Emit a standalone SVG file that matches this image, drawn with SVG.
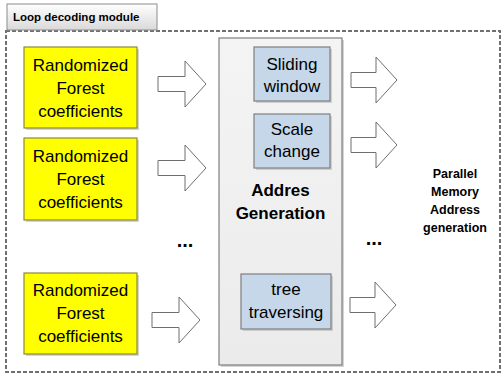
<svg xmlns="http://www.w3.org/2000/svg" width="504" height="376" viewBox="0 0 504 376">
  <defs>
    <linearGradient id="tabFill" x1="0" y1="0" x2="0" y2="1">
      <stop offset="0" stop-color="#ffffff"/>
      <stop offset="1" stop-color="#d9d9d9"/>
    </linearGradient>
    <linearGradient id="coreFill" x1="0" y1="0" x2="0" y2="1">
      <stop offset="0" stop-color="#f4f4f4"/>
      <stop offset="1" stop-color="#ebebeb"/>
    </linearGradient>
    <path id="inArrow" d="M0,-7.5 H27 V-23 L48,0 L27,23 V7.5 H0 Z"/>
    <path id="outArrow" d="M0,-7.5 H25 V-23 L46,0 L25,23 V7.5 H0 Z"/>
  </defs>
  <style>
    text { font-family: "Liberation Sans", Arial, sans-serif; fill: #000; text-anchor: middle; }
    .yellow { fill: #ffff00; stroke: #8a8a3a; stroke-width: 1.2; }
    .blue { fill: #c5d7e9; stroke: #7f7f7f; stroke-width: 1.2; }
    .shadow { fill: #b8b8b8; opacity: 0.6; }
    .arrow { fill: #ffffff; stroke: #6f6f6f; stroke-width: 1; }
    .big { font-size: 17px; }
    .bold { font-weight: bold; }
    .side { font-size: 12.5px; font-weight: bold; }
    .dots { font-size: 20px; font-weight: bold; }
  </style>

  <rect x="0" y="0" width="504" height="376" fill="#ffffff"/>

  <!-- module frame with its title tab -->
  <g id="module">
    <rect x="6" y="31" width="494" height="341" fill="none" stroke="#707070" stroke-width="2" stroke-dasharray="4,2"/>
    <rect x="7" y="4" width="150" height="26" fill="url(#tabFill)" stroke="#8c8c8c" stroke-width="1"/>
    <text x="13" y="21" class="bold" style="font-size:11.5px; text-anchor:start">Loop decoding module</text>
  </g>

  <!-- coefficient sources -->
  <g id="coeff1">
    <rect x="26" y="49" width="113" height="81" class="shadow"/>
    <rect x="24" y="47" width="113" height="81" class="yellow"/>
    <text x="80.5" y="71" class="big">Randomized</text>
    <text x="80.5" y="94" class="big">Forest</text>
    <text x="80.5" y="117" class="big">coefficients</text>
  </g>
  <g id="coeff2">
    <rect x="26" y="140" width="113" height="82" class="shadow"/>
    <rect x="24" y="138" width="113" height="82" class="yellow"/>
    <text x="80.5" y="162" class="big">Randomized</text>
    <text x="80.5" y="185" class="big">Forest</text>
    <text x="80.5" y="208" class="big">coefficients</text>
  </g>
  <g id="coeff3">
    <rect x="26" y="275" width="113" height="81" class="shadow"/>
    <rect x="24" y="273" width="113" height="81" class="yellow"/>
    <text x="80.5" y="296" class="big">Randomized</text>
    <text x="80.5" y="319" class="big">Forest</text>
    <text x="80.5" y="342" class="big">coefficients</text>
  </g>

  <!-- address generation block -->
  <g id="addressGen">
    <rect x="221" y="40" width="123" height="327" class="shadow"/>
    <rect x="219" y="38" width="123" height="327" fill="url(#coreFill)" stroke="#7f7f7f" stroke-width="1.2"/>
    <text x="280.5" y="196" class="big bold">Addres</text>
    <text x="280.5" y="219" class="big bold">Generation</text>
  </g>
  <g id="slidingWindow">
    <rect x="256" y="49" width="76" height="54" class="shadow"/>
    <rect x="254" y="47" width="76" height="54" class="blue"/>
    <text x="292" y="70" class="big">Sliding</text>
    <text x="292" y="92" class="big">window</text>
  </g>
  <g id="scaleChange">
    <rect x="256" y="116" width="76" height="54" class="shadow"/>
    <rect x="254" y="114" width="76" height="54" class="blue"/>
    <text x="292" y="135" class="big">Scale</text>
    <text x="292" y="157" class="big">change</text>
  </g>
  <g id="treeTraversing">
    <rect x="243" y="276" width="90" height="55" class="shadow"/>
    <rect x="241" y="274" width="90" height="55" class="blue"/>
    <text x="286" y="295" class="big">tree</text>
    <text x="286" y="318" class="big">traversing</text>
  </g>

  <!-- output label -->
  <g id="parallelOut">
    <text x="455" y="178" class="side">Parallel</text>
    <text x="455" y="196" class="side">Memory</text>
    <text x="455" y="214" class="side">Address</text>
    <text x="455" y="232" class="side">generation</text>
  </g>

  <!-- ellipses for omitted lanes -->
  <g id="ellipses">
    <text x="185" y="247" class="dots">...</text>
    <text x="374" y="245" class="dots">...</text>
  </g>

  <!-- connectors -->
  <g id="connectors">
    <use href="#inArrow" class="arrow" transform="translate(158,84)"/>
    <use href="#inArrow" class="arrow" transform="translate(158,168)"/>
    <use href="#inArrow" class="arrow" transform="translate(152,320)"/>
    <use href="#outArrow" class="arrow" transform="translate(351,80)"/>
    <use href="#outArrow" class="arrow" transform="translate(351,145)"/>
    <use href="#outArrow" class="arrow" transform="translate(350,305)"/>
  </g>
</svg>
